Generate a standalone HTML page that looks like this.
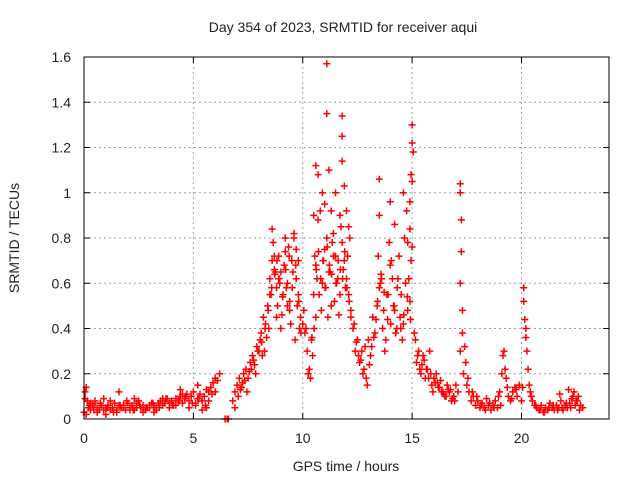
<!DOCTYPE html>
<html><head><meta charset="utf-8"><style>
body{margin:0;background:#fff;font-family:"Liberation Sans",sans-serif}
svg text{font-family:"Liberation Sans",sans-serif;font-size:14px;fill:#222}
</style></head><body>
<svg id="c" width="640" height="480">
<text x="343" y="32" text-anchor="middle">Day 354 of 2023, SRMTID for receiver aqui</text>
<text x="346" y="471" text-anchor="middle">GPS time / hours</text>
<text transform="translate(19,238) rotate(-90)" text-anchor="middle">SRMTID / TECUs</text>
<g id="grid"></g><g id="pts"></g><g id="ax"></g>
</svg>
<script>
const xTicks=[0,5,10,15,20];
const yTicks=[0,0.2,0.4,0.6,0.8,1,1.2,1.4,1.6];
const yTickLabels=["0","0.2","0.4","0.6","0.8","1","1.2","1.4","1.6"];
const hours=[
0,0.05,0.1,0.15,0.2,0.3,0.4,0.5,0.6,0.7,0.8,0.9,1.0,1.1,1.2,1.3,1.4,1.5,1.6,1.7,1.8,1.9,2.0,2.1,2.2,2.3,2.4,2.5,2.6,2.7,2.8,2.9,3.0,3.1,3.2,3.3,3.4,3.5,3.6,3.7,3.8,3.9,4.0,4.1,4.2,4.3,4.4,4.5,4.6,4.7,4.8,4.9,5.0,5.1,5.2,5.3,5.4,5.5,5.6,5.7,5.8,5.9,6.0,6.1,6.2,
0.05,0.3,0.6,0.9,1.2,1.5,1.8,2.1,2.4,2.7,3.0,3.3,3.6,3.9,4.2,4.5,4.8,5.1,5.4,5.7,6.0,0.1,0.5,1.0,1.6,2.3,3.2,4.4,5.2,5.6,
0.25,0.45,0.75,1.05,1.35,1.65,1.95,2.25,2.55,2.85,3.15,3.45,3.75,4.05,4.35,4.65,4.95,5.25,5.55,5.85,
6.45,6.55,6.6,
6.8,6.9,7.0,7.1,7.2,7.3,7.4,7.5,7.6,7.7,7.8,7.9,8.0,8.1,8.2,8.3,8.4,8.5,8.6,8.7,8.8,8.9,9.0,9.1,9.2,9.3,9.4,9.5,9.6,9.7,9.8,9.9,
6.9,7.05,7.25,7.45,7.65,7.85,8.05,8.25,8.45,8.55,8.65,8.75,8.85,8.95,9.05,9.15,9.25,9.35,9.45,9.55,9.65,9.75,9.85,
8.15,8.35,8.6,8.7,8.8,9.0,9.2,9.4,9.6,9.8,8.5,8.9,9.3,9.7,
7.15,7.35,7.55,7.75,7.95,8.12,8.28,8.42,8.58,8.72,8.82,8.92,9.08,9.22,9.38,9.52,9.68,9.82,9.92,
10.0,10.1,10.2,10.3,10.35,10.4,10.45,10.5,10.55,10.6,10.7,10.8,10.9,11.0,11.1,11.2,11.3,11.4,11.5,11.6,11.7,11.8,11.9,12.0,12.1,12.2,
10.05,10.15,10.25,10.6,10.65,10.75,10.85,10.95,11.05,11.15,11.25,11.35,11.45,11.55,11.65,11.75,11.85,11.95,12.05,12.15,
10.6,10.7,10.8,10.9,11.0,11.1,11.1,11.3,11.5,11.7,11.8,11.8,11.8,11.9,12.0,12.1,11.4,10.5,11.2,12.2,
10.62,10.72,10.82,10.92,11.02,11.12,11.22,11.32,11.42,11.52,11.62,11.72,11.82,11.92,12.02,12.12,10.52,10.42,
12.3,12.4,12.5,12.6,12.7,12.8,12.9,13.0,13.1,13.2,13.3,13.4,13.5,13.6,13.7,13.8,13.9,14.0,14.1,14.2,14.3,14.4,14.5,14.6,14.7,14.8,14.9,
12.35,12.55,12.75,12.95,13.15,13.35,13.45,13.55,13.65,13.75,13.85,13.95,14.05,14.15,14.25,14.35,14.45,14.55,14.65,14.75,14.85,14.95,
13.5,13.5,14.0,14.2,14.6,14.9,14.95,15.0,15.0,15.05,14.9,15.0,15.0,14.8,
12.45,12.65,12.85,13.05,13.25,13.42,13.58,13.72,13.88,14.02,14.18,14.32,14.48,14.62,14.78,14.92,
15.1,15.2,15.3,15.4,15.5,15.6,15.7,15.8,15.9,16.0,16.1,16.2,16.3,16.4,16.5,16.6,16.7,16.8,16.9,17.0,17.1,
15.15,15.35,15.55,15.75,15.95,16.15,16.35,16.55,16.75,16.95,
15.25,15.45,15.65,15.85,16.05,16.25,16.45,16.65,16.85,
17.2,17.2,17.25,17.25,17.2,17.3,17.3,17.2,17.35,17.4,17.45,17.5,17.6,17.7,17.8,17.9,18.0,18.1,18.2,18.3,18.4,18.5,18.6,18.7,18.8,18.9,19.0,19.1,19.2,19.3,19.4,19.5,19.6,19.7,19.8,19.9,
17.55,17.75,17.95,18.15,18.35,18.55,18.75,18.95,19.15,19.25,19.35,19.05,19.55,19.75,
20.0,20.05,20.1,20.1,20.15,20.2,20.2,20.25,20.3,20.35,20.4,20.5,20.6,20.7,20.8,20.9,21.0,21.1,21.2,21.3,21.4,21.5,21.6,21.7,21.8,21.9,22.0,22.1,22.2,22.3,22.4,22.5,22.6,22.7,22.8,
20.45,20.65,20.85,21.05,21.25,21.45,21.65,21.85,22.05,22.25,22.45,22.65,21.75,22.15,22.35,22.55
];
const srmtid=[
0.03,0.12,0.14,0.08,0.05,0.04,0.06,0.07,0.05,0.04,0.06,0.09,0.05,0.06,0.04,0.05,0.07,0.04,0.06,0.05,0.05,0.04,0.07,0.05,0.06,0.04,0.05,0.08,0.05,0.06,0.04,0.05,0.06,0.07,0.06,0.05,0.07,0.08,0.06,0.07,0.09,0.07,0.08,0.06,0.09,0.08,0.10,0.07,0.09,0.11,0.08,0.10,0.12,0.07,0.09,0.11,0.08,0.10,0.13,0.12,0.14,0.16,0.18,0.17,0.20,
0.09,0.07,0.03,0.04,0.08,0.03,0.06,0.04,0.07,0.03,0.05,0.04,0.09,0.05,0.06,0.11,0.05,0.06,0.04,0.08,0.12,0.02,0.08,0.02,0.12,0.09,0.03,0.13,0.15,0.05,
0.06,0.04,0.07,0.05,0.03,0.06,0.08,0.04,0.06,0.05,0.07,0.05,0.09,0.06,0.08,0.10,0.07,0.09,0.06,0.11,
0.0,0.0,0.0,
0.08,0.12,0.15,0.18,0.14,0.20,0.22,0.18,0.25,0.28,0.24,0.32,0.30,0.38,0.45,0.42,0.50,0.62,0.70,0.66,0.58,0.72,0.65,0.55,0.74,0.60,0.52,0.70,0.80,0.62,0.55,0.45,
0.05,0.10,0.16,0.12,0.22,0.20,0.35,0.30,0.40,0.55,0.78,0.65,0.50,0.60,0.46,0.68,0.58,0.76,0.42,0.65,0.35,0.50,0.40,
0.28,0.36,0.84,0.72,0.45,0.40,0.80,0.48,0.82,0.70,0.55,0.62,0.50,0.75,
0.13,0.17,0.21,0.26,0.30,0.34,0.40,0.48,0.58,0.64,0.70,0.62,0.54,0.66,0.72,0.58,0.68,0.52,0.38,
0.42,0.38,0.30,0.22,0.18,0.35,0.28,0.55,0.72,0.68,0.88,0.92,0.60,0.75,0.80,0.65,0.50,0.82,0.72,0.62,0.55,0.78,0.70,0.62,0.55,0.48,
0.48,0.40,0.20,0.45,0.62,0.55,0.48,0.70,0.58,0.45,0.65,0.78,0.52,0.60,0.46,0.85,0.66,0.58,0.72,0.80,
1.12,1.08,0.92,1.00,0.95,1.57,1.35,0.92,1.00,0.90,1.34,1.25,1.14,1.03,0.92,0.85,0.72,0.90,1.10,0.45,
0.66,0.74,0.62,0.70,0.58,0.76,0.68,0.64,0.72,0.60,0.70,0.66,0.62,0.74,0.58,0.52,0.40,0.36,
0.40,0.30,0.35,0.25,0.30,0.22,0.18,0.35,0.28,0.45,0.38,0.50,0.58,0.62,0.48,0.35,0.55,0.68,0.62,0.48,0.40,0.72,0.55,0.42,0.60,0.48,0.52,
0.42,0.28,0.20,0.15,0.32,0.44,0.72,0.60,0.40,0.30,0.55,0.78,0.70,0.50,0.38,0.62,0.45,0.35,0.80,0.92,0.62,0.70,
1.06,0.90,0.96,0.86,1.00,0.96,1.08,1.30,1.22,1.18,0.84,0.76,1.05,0.78,
0.34,0.26,0.32,0.24,0.36,0.52,0.64,0.56,0.44,0.42,0.50,0.58,0.40,0.46,0.54,0.44,
0.38,0.25,0.30,0.20,0.28,0.18,0.22,0.30,0.15,0.18,0.20,0.14,0.17,0.12,0.10,0.15,0.12,0.08,0.10,0.15,0.12,
0.35,0.22,0.26,0.18,0.12,0.16,0.12,0.10,0.13,0.08,
0.28,0.24,0.22,0.20,0.16,0.14,0.11,0.13,0.09,
1.04,1.00,0.88,0.74,0.60,0.48,0.38,0.30,0.20,0.32,0.25,0.15,0.12,0.08,0.10,0.06,0.08,0.05,0.07,0.05,0.09,0.06,0.04,0.06,0.08,0.05,0.12,0.20,0.30,0.18,0.10,0.08,0.12,0.14,0.10,0.15,
0.18,0.12,0.10,0.06,0.04,0.07,0.05,0.10,0.28,0.22,0.14,0.06,0.09,0.13,
0.08,0.14,0.58,0.52,0.44,0.40,0.36,0.30,0.22,0.15,0.12,0.08,0.06,0.05,0.04,0.06,0.03,0.05,0.04,0.07,0.05,0.04,0.06,0.05,0.08,0.04,0.06,0.05,0.07,0.09,0.12,0.08,0.10,0.06,0.05,
0.10,0.06,0.04,0.03,0.05,0.06,0.04,0.05,0.07,0.05,0.06,0.04,0.11,0.13,0.10,0.08
];
const NS="http://www.w3.org/2000/svg";
const X0=84,X1=609,Y0=419,Y1=57;
function sx(h){return X0+(h/24)*(X1-X0);}
function sy(v){return Y0-(v/1.6)*(Y0-Y1);}
const svg=document.getElementById('c'),grid=document.getElementById('grid'),pts=document.getElementById('pts'),ax=document.getElementById('ax');
function mk(t,a,p){const e=document.createElementNS(NS,t);for(const k in a)e.setAttribute(k,a[k]);(p||svg).appendChild(e);return e;}
xTicks.forEach(t=>{const x=sx(t);
 if(t>0){const g=mk('line',{x1:x,x2:x,y1:Y0,y2:Y1,stroke:'#a0a0a0','stroke-dasharray':'2,3'},grid);
 
 }
 const l=mk('text',{x:x,y:443,'text-anchor':'middle'},ax);l.textContent=t;
 
 
 mk('line',{x1:x,x2:x,y1:Y0,y2:Y0-6,stroke:'#000'},ax);mk('line',{x1:x,x2:x,y1:Y1,y2:Y1+6,stroke:'#000'},ax);});
yTicks.forEach((t,i)=>{const y=sy(t);
 if(t>0&&t<1.6){const g=mk('line',{x1:X0,x2:X1,y1:y,y2:y,stroke:'#a0a0a0','stroke-dasharray':'2,3'},grid);
 
 }
 const l=mk('text',{x:71,y:y+5,'text-anchor':'end'},ax);l.textContent=yTickLabels[i];
 
 
 mk('line',{x1:X0,x2:X0+6,y1:y,y2:y,stroke:'#000'},ax);mk('line',{x1:X1,x2:X1-6,y1:y,y2:y,stroke:'#000'},ax);});
const fr=mk('rect',{x:X0,y:Y1,width:X1-X0,height:Y0-Y1,fill:'none',stroke:'#000','stroke-width':1},ax);


let d='';
hours.forEach((h,i)=>{const x=sx(h),y=sy(srmtid[i]);d+=`M${x-3.5},${y}h7M${x},${y-3.5}v7`;});
const p=mk('path',{d:d,stroke:'#ff0000','stroke-width':1.5,fill:'none'},pts);


</script>
</body></html>
